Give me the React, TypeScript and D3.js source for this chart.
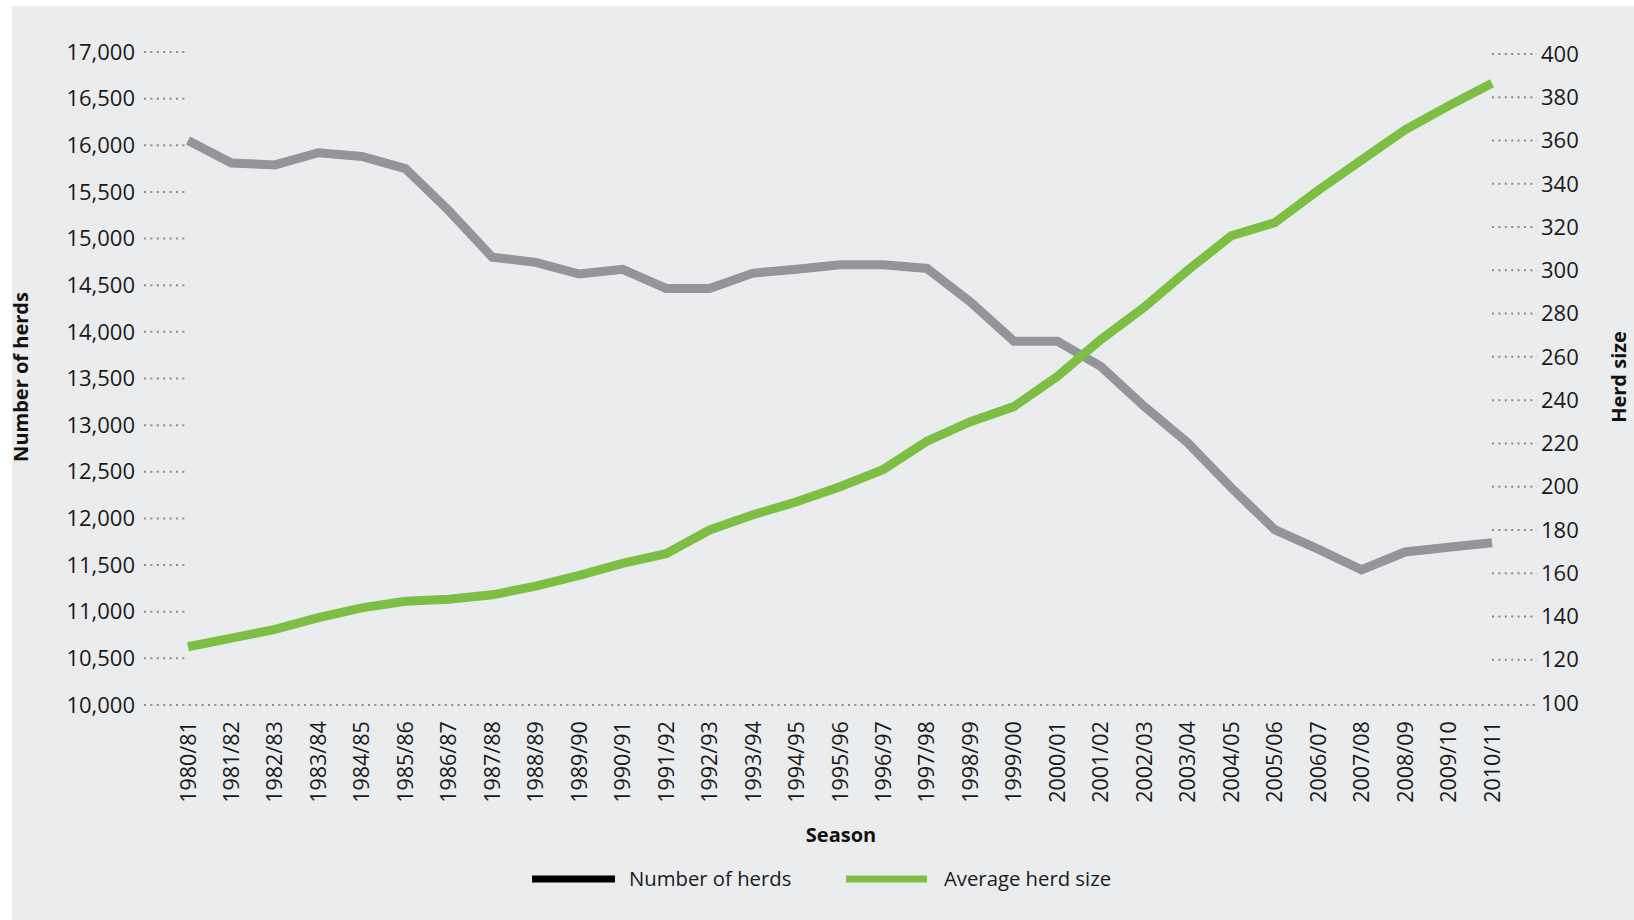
import * as d3 from 'd3'

const seasons = [
  '1980/81', '1981/82', '1982/83', '1983/84', '1984/85', '1985/86', '1986/87', '1987/88',
  '1988/89', '1989/90', '1990/91', '1991/92', '1992/93', '1993/94', '1994/95', '1995/96',
  '1996/97', '1997/98', '1998/99', '1999/00', '2000/01', '2001/02', '2002/03', '2003/04',
  '2004/05', '2005/06', '2006/07', '2007/08', '2008/09', '2009/10', '2010/11',
]

const numberOfHerds = [
  16050, 15810, 15790, 15920, 15880, 15750, 15300, 14800,
  14745, 14620, 14670, 14465, 14465, 14630, 14670, 14720,
  14720, 14680, 14320, 13900, 13900, 13630, 13200, 12810,
  12330, 11880, 11670, 11450, 11640, 11690, 11740,
]

const averageHerdSize = [
  126, 130, 134, 139.5, 144, 147, 148, 150,
  154, 159, 164.5, 169, 180, 187, 193, 200,
  208, 221, 230, 237, 251, 268, 283, 300,
  316, 322, 337, 351, 365, 376, 386.5,
]

const leftTicks = [10000, 10500, 11000, 11500, 12000, 12500, 13000, 13500, 14000, 14500, 15000, 15500, 16000, 16500, 17000]
const rightTicks = [100, 120, 140, 160, 180, 200, 220, 240, 260, 280, 300, 320, 340, 360, 380, 400]

const W = 1634
const H = 920
const FONT = '"Open Sans", "Liberation Sans", sans-serif'

export default function App() {
  const x = d3.scalePoint<string>().domain(seasons).range([188, 1492])
  const yLeft = d3.scaleLinear().domain([10000, 17000]).range([705, 52])
  const yRight = d3.scaleLinear().domain([100, 400]).range([703, 54])
  const fmt = d3.format(',')

  const herdsLine = d3.line<number>()
    .x((_, i) => x(seasons[i])!)
    .y(d => yLeft(d))
  const sizeLine = d3.line<number>()
    .x((_, i) => x(seasons[i])!)
    .y(d => yRight(d))

  const dots = { stroke: '#8c8c8c', strokeWidth: 2, strokeDasharray: '2 4.4' }

  return (
    <svg width={W} height={H} style={{ position: 'absolute', left: 0, top: 0, display: 'block' }}>
      <rect x={0} y={0} width={W} height={H} fill="#ffffff" />
      <rect x={12} y={6} width={W - 12} height={H - 6} fill="#ebecee" />

      {/* left axis */}
      {leftTicks.map(t => (
        <g key={'l' + t}>
          {t !== 10000 && (
            <line x1={144} x2={188} y1={yLeft(t)} y2={yLeft(t)} {...dots} />
          )}
          <text x={135} y={yLeft(t)} dy="0.35em" textAnchor="end" fontFamily={FONT} fontSize={22} fill="#1a1a1a">
            {fmt(t)}
          </text>
        </g>
      ))}

      {/* right axis */}
      {rightTicks.map(t => (
        <g key={'r' + t}>
          {t !== 100 && (
            <line x1={1492} x2={1537} y1={yRight(t)} y2={yRight(t)} {...dots} />
          )}
          <text x={1541} y={yRight(t)} dy="0.35em" textAnchor="start" fontFamily={FONT} fontSize={22} fill="#1a1a1a">
            {t}
          </text>
        </g>
      ))}

      {/* baseline */}
      <line x1={144} x2={1537} y1={yLeft(10000)} y2={yLeft(10000)} {...dots} />

      {/* x labels */}
      {seasons.map(s => (
        <text
          key={s}
          transform={`translate(${x(s)! + 7.5},762) rotate(-90)`}
          textAnchor="middle"
          fontFamily={FONT}
          fontSize={21.5}
          fill="#1a1a1a"
        >
          {s}
        </text>
      ))}

      {/* lines */}
      <path d={herdsLine(numberOfHerds)!} fill="none" stroke="#949598" strokeWidth={9} strokeLinejoin="miter" />
      <path d={sizeLine(averageHerdSize)!} fill="none" stroke="#7dbf45" strokeWidth={9} strokeLinejoin="miter" />

      {/* axis titles */}
      <text transform="translate(28,377) rotate(-90)" textAnchor="middle" fontFamily={FONT} fontSize={20} fontWeight="bold" fill="#111">
        Number of herds
      </text>
      <text transform="translate(1626,377) rotate(-90)" textAnchor="middle" fontFamily={FONT} fontSize={20} fontWeight="bold" fill="#111">
        Herd size
      </text>
      <text x={841} y={842} textAnchor="middle" fontFamily={FONT} fontSize={20} fontWeight="bold" fill="#111">
        Season
      </text>

      {/* legend */}
      <line x1={532} x2={615} y1={879} y2={879} stroke="#000" strokeWidth={7} />
      <text x={629} y={879} dy="0.35em" fontFamily={FONT} fontSize={20.3} fill="#1a1a1a">Number of herds</text>
      <line x1={846} x2={927} y1={879} y2={879} stroke="#7dbf45" strokeWidth={7} />
      <text x={944} y={879} dy="0.35em" fontFamily={FONT} fontSize={20.3} fill="#1a1a1a">Average herd size</text>
    </svg>
  )
}
